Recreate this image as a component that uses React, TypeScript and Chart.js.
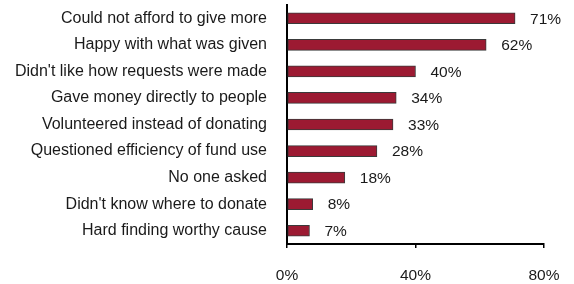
import React, { useEffect, useRef } from "react";
import { Chart, registerables } from "chart.js";

Chart.register(...registerables);

const categories = [
  "Could not afford to give more",
  "Happy with what was given",
  "Didn't like how requests were made",
  "Gave money directly to people",
  "Volunteered instead of donating",
  "Questioned efficiency of fund use",
  "No one asked",
  "Didn't know where to donate",
  "Hard finding worthy cause",
];
const values = [71, 62, 40, 34, 33, 28, 18, 8, 7];
const xTicks = [0, 40, 80];

const FONT = '"Liberation Sans", Arial, Helvetica, sans-serif';

const valueLabels = {
  id: "valueLabels",
  afterDatasetsDraw(chart: any) {
    const ctx = chart.ctx;
    const meta = chart.getDatasetMeta(0);
    ctx.save();
    ctx.font = `15.5px ${FONT}`;
    ctx.fillStyle = "#1a1a1a";
    ctx.textAlign = "left";
    ctx.textBaseline = "middle";
    meta.data.forEach((el: any, i: number) => {
      ctx.fillText(`${values[i]}%`, el.x + 15, el.y + 1);
    });
    ctx.restore();
  },
};

export default function App() {
  const ref = useRef<HTMLCanvasElement | null>(null);
  useEffect(() => {
    if (!ref.current) return;
    const chart = new Chart(ref.current, {
      type: "bar",
      data: {
        labels: categories,
        datasets: [
          {
            data: values,
            backgroundColor: "#9c1a32",
            borderColor: "#3a3a3a",
            borderWidth: 1,
            borderSkipped: false,
            barThickness: 11,
          },
        ],
      },
      options: {
        indexAxis: "y",
        responsive: false,
        animation: false,
        layout: { padding: { top: 5, right: 30, left: 0, bottom: 0 } },
        plugins: {
          legend: { display: false },
          tooltip: { enabled: false },
        },
        scales: {
          x: {
            min: 0,
            max: 80,
            afterBuildTicks(scale: any) {
              scale.ticks = xTicks.map((v) => ({ value: v }));
            },
            afterFit(scale: any) {
              scale.height = 40;
              scale.paddingLeft = 0;
              scale.paddingRight = 0;
            },
            border: { display: true, color: "#000", width: 2 },
            grid: {
              display: true,
              drawOnChartArea: false,
              drawTicks: true,
              tickLength: 4,
              color: "#000",
              lineWidth: 1.5,
            },
            ticks: {
              padding: 18,
              color: "#1a1a1a",
              font: { family: FONT, size: 15.5 },
              maxRotation: 0,
              callback: (v: any) => `${v}%`,
            },
          },
          y: {
            afterFit(scale: any) {
              scale.width = 287;
              scale.paddingTop = 0;
              scale.paddingBottom = 0;
            },
            border: { display: true, color: "#000", width: 2 },
            grid: { display: false, drawTicks: false },
            ticks: {
              padding: 20,
              color: "#1a1a1a",
              font: { family: FONT, size: 16 },
            },
          },
        },
      },
      plugins: [valueLabels],
    } as any);
    return () => chart.destroy();
  }, []);
  return (
    <div style={{ position: "absolute", left: 0, top: 0, width: 574, height: 284 }}>
      <canvas ref={ref} width={574} height={284} style={{ width: 574, height: 284 }} />
    </div>
  );
}
